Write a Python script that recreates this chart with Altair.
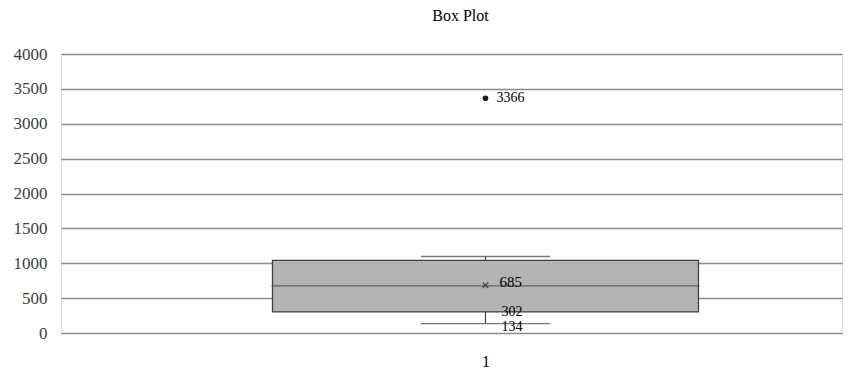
import altair as alt
import pandas as pd

# Box statistics
category = ["1"]
x_pos = [1]
q1 = [302]
median = [677]
q3 = [1040]
whisker_low = [134]
whisker_high = [1097]
mean = [685]
outliers = [3366]

y_ticks = [0, 500, 1000, 1500, 2000, 2500, 3000, 3500, 4000]

FONT = "Liberation Serif"
DARK = "#404040"

box_df = pd.DataFrame({
    "cat": category, "x": x_pos, "q1": q1, "median": median, "q3": q3,
    "lo": whisker_low, "hi": whisker_high, "mean": mean,
})
out_df = pd.DataFrame({"x": x_pos * len(outliers), "v": outliers})

xscale = alt.Scale(domain=[0, 1.838], nice=False, zero=False)
yscale = alt.Scale(domain=[0, 4000], nice=False)

xaxis = alt.Axis(values=x_pos, title=None, grid=False, domain=False,
                 ticks=False, labelFont=FONT, labelFontSize=16,
                 labelColor="#000000", labelPadding=20, format="d")
yaxis = alt.Axis(values=y_ticks, title=None, grid=True, domain=False, ticks=False,
                 labelFont=FONT, labelFontSize=17, labelColor=DARK, format="d",
                 labelPadding=14, gridColor="#8c8c8c", gridWidth=1.4)


def X():
    return alt.X("x:Q", scale=xscale, axis=xaxis)


def Y(field):
    return alt.Y(field, scale=yscale, axis=yaxis)


base = alt.Chart(box_df)

upper_w = base.mark_rule(color=DARK, strokeWidth=1.2).encode(x=X(), y=Y("q3:Q"), y2="hi:Q")
lower_w = base.mark_rule(color=DARK, strokeWidth=1.2).encode(x=X(), y=Y("lo:Q"), y2="q1:Q")
cap_hi = base.mark_tick(orient="horizontal", size=129, thickness=1.3, color=DARK).encode(
    x=X(), y=Y("hi:Q"))
cap_lo = base.mark_tick(orient="horizontal", size=129, thickness=1.3, color=DARK).encode(
    x=X(), y=Y("lo:Q"))
box = base.mark_bar(size=426, fill="#b4b4b4", stroke=DARK, strokeWidth=1.3).encode(
    x=X(), y=Y("q1:Q"), y2="q3:Q")
med = base.mark_tick(orient="horizontal", size=428, thickness=1.3, color=DARK).encode(
    x=X(), y=Y("median:Q"))
mean_pt = base.mark_point(shape="M-1,-1L1,1M-1,1L1,-1", size=30, filled=False,
                          strokeWidth=1.2, color=DARK, opacity=1).encode(
    x=X(), y=Y("mean:Q"))
mean_lbl = base.mark_text(align="left", dx=14, dy=-3, font=FONT, fontSize=15, color="#000").encode(
    x=X(), y=Y("mean:Q"), text="mean:Q")
q1_lbl = base.mark_text(align="left", dx=16, dy=0, font=FONT, fontSize=14, color="#000").encode(
    x=X(), y=Y("q1:Q"), text="q1:Q")
lo_lbl = base.mark_text(align="left", dx=16, dy=3, font=FONT, fontSize=14, color="#000").encode(
    x=X(), y=Y("lo:Q"), text="lo:Q")

out_base = alt.Chart(out_df)
out_pt = out_base.mark_circle(size=32, color="#1a1a1a", opacity=1).encode(
    x=X(), y=Y("v:Q"))
out_lbl = out_base.mark_text(align="left", dx=11, font=FONT, fontSize=14, color="#000").encode(
    x=X(), y=Y("v:Q"), text="v:Q")

chart = alt.layer(
    upper_w, lower_w, cap_hi, cap_lo, box, med, mean_pt, mean_lbl, q1_lbl, lo_lbl,
    out_pt, out_lbl,
).properties(
    width=781, height=279,
    title=alt.TitleParams("Box Plot", font=FONT, fontSize=16, fontWeight="normal",
                          color="#000", anchor="middle", dx=9, offset=21),
    autosize=alt.AutoSizeParams(type="none"),
    padding={"left": 53, "top": 46, "right": 3, "bottom": 35},
).configure_view(stroke=None).configure(background="white")

chart.save("out.html", embed_options={"renderer": "svg", "actions": False})
